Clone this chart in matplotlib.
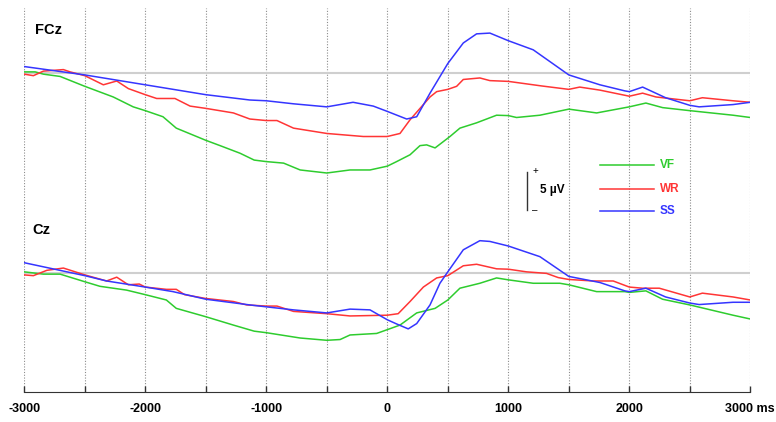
import matplotlib
matplotlib.use('Agg')
import matplotlib.pyplot as plt

# ERP traces (time in ms, amplitude in uV, positive up)
# FCz channel
FCZ_VF_T = [-3000, -2910, -2842, -2704, -2500, -2265, -2100, -2000, -1854, -1744, -1500, -1382,
            -1217, -1100, -1000, -857, -720, -500, -308, -143, 0, 77, 188, 270, 325, 395, 518,
            600, 738, 903, 1000, 1068, 1261, 1500, 1730, 2000, 2137, 2275, 2500, 2857, 3000]
FCZ_VF_V = [0.1, 0.1, -0.2, -0.5, -1.8, -3.2, -4.5, -5.0, -5.8, -7.3, -8.9, -9.6,
            -10.6, -11.5, -11.7, -11.9, -12.8, -13.2, -12.8, -12.8, -12.3, -11.7, -10.8, -9.6, -9.5, -9.9, -8.4,
            -7.3, -6.6, -5.6, -5.65, -5.9, -5.6, -4.8, -5.3, -4.5, -4.0, -4.6, -5.0, -5.6, -5.9]

FCZ_WR_T = [-3000, -2925, -2842, -2677, -2622, -2500, -2347, -2236, -2140, -2000, -1906, -1755,
            -1630, -1500, -1272, -1136, -1000, -912, -775, -500, -198, 0, 105, 188, 353, 408, 500,
            573, 628, 765, 848, 1000, 1275, 1500, 1590, 1757, 2000, 2110, 2220, 2500, 2604, 2857, 3000]
FCZ_WR_V = [-0.2, -0.4, 0.2, 0.4, 0.1, -0.4, -1.6, -1.1, -2.1, -2.9, -3.4, -3.4,
            -4.4, -4.7, -5.3, -6.1, -6.3, -6.3, -7.3, -8.0, -8.4, -8.4, -8.0, -6.2, -3.2, -2.5, -2.2,
            -1.8, -0.9, -0.7, -1.05, -1.15, -1.75, -2.2, -1.9, -2.3, -3.1, -2.7, -3.2, -3.7, -3.3, -3.7, -3.9]

FCZ_SS_T = [-3000, -2500, -2000, -1500, -1136, -1000, -775, -500, -283, -116, 0, 160, 243, 353,
            500, 628, 738, 848, 1000, 1206, 1500, 1757, 1963, 2000, 2110, 2300, 2500, 2577, 2857, 3000]
FCZ_SS_V = [0.8, -0.3, -1.6, -2.9, -3.6, -3.7, -4.1, -4.5, -3.9, -4.4, -5.1, -6.1, -5.8, -2.7,
            1.2, 3.9, 5.1, 5.2, 4.2, 3.0, -0.3, -1.6, -2.4, -2.5, -1.9, -3.3, -4.3, -4.5, -4.2, -3.9]

# Cz channel
CZ_VF_T = [-3000, -2842, -2704, -2500, -2375, -2155, -2000, -1826, -1744, -1500, -1272, -1100,
           -1000, -720, -500, -390, -308, -88, 0, 105, 243, 395, 500, 600, 765, 903, 1000, 1206,
           1426, 1500, 1730, 1963, 2000, 2137, 2275, 2500, 2857, 3000]
CZ_VF_V = [0.1, -0.2, -0.2, -1.2, -1.8, -2.3, -2.9, -3.6, -4.7, -5.8, -6.9, -7.7,
           -7.9, -8.6, -8.9, -8.8, -8.2, -8.0, -7.5, -6.9, -5.3, -4.7, -3.6, -2.05, -1.4, -0.7, -0.95, -1.4,
           -1.4, -1.6, -2.5, -2.5, -2.6, -2.4, -3.5, -4.25, -5.6, -6.1]

CZ_WR_T = [-3000, -2925, -2814, -2677, -2500, -2320, -2236, -2140, -2050, -2000, -1826, -1744,
           -1675, -1500, -1272, -1162, -1000, -912, -775, -500, -308, 0, 90, 188, 298, 408, 500,
           628, 738, 903, 1000, 1151, 1316, 1412, 1500, 1702, 1867, 2000, 2110, 2248, 2500, 2604, 2857, 3000]
CZ_WR_V = [-0.3, -0.4, 0.3, 0.6, -0.3, -1.1, -0.6, -1.6, -1.5, -1.9, -2.2, -2.2,
           -2.9, -3.4, -3.8, -4.25, -4.4, -4.4, -5.1, -5.4, -5.7, -5.6, -5.4, -3.8, -1.9, -0.7, -0.4,
           0.9, 1.1, 0.5, 0.45, 0.1, -0.1, -0.65, -0.9, -1.1, -1.1, -1.9, -2.05, -2.05, -3.2, -2.7, -3.2, -3.6]

CZ_SS_T = [-3000, -2500, -2320, -2000, -1771, -1500, -1136, -1000, -775, -500, -308, -143, 0, 77,
           173, 243, 353, 435, 500, 628, 765, 848, 1000, 1261, 1500, 1757, 1963, 2000, 2137, 2300,
           2500, 2577, 2857, 3000]
CZ_SS_V = [1.3, -0.4, -1.1, -1.9, -2.5, -3.5, -4.25, -4.5, -4.9, -5.3, -4.8, -4.9, -6.2, -6.75,
           -7.4, -6.7, -4.25, -1.4, 0.1, 3.0, 4.2, 4.1, 3.5, 2.1, -0.5, -1.3, -2.4, -2.5, -2.05, -3.2,
           -4.0, -4.2, -3.9, -3.9]

CONDITIONS = ['VF', 'WR', 'SS']
COLORS = {'VF': '#2ecc2e', 'WR': '#ff3535', 'SS': '#3535ff'}
X_TICKS = [-3000, -2500, -2000, -1500, -1000, -500, 0, 500, 1000, 1500, 2000, 2500, 3000]
X_LABELS = ['-3000', '', '-2000', '', '-1000', '', '0', '', '1000', '', '2000', '', '3000 ms']

CZ_OFFSET = -26.3  # vertical gap between the two channels, in uV
FONT = 'Liberation Sans'


def plot_data():
    fig = plt.figure(figsize=(7.76, 4.22), dpi=100)
    ax = fig.add_axes([24.3 / 776, 30 / 422, 726 / 776, 384 / 422])

    # grid of dotted verticals every 500 ms
    for t in X_TICKS:
        ax.axvline(t, color='#8c8c8c', ls=(0, (1, 1.5)), lw=0.8, zorder=1)

    # baselines
    ax.hlines([0, CZ_OFFSET], -3000, 3000, color='#cfcfcf', lw=1.5, zorder=1)

    fcz = {'VF': (FCZ_VF_T, FCZ_VF_V), 'WR': (FCZ_WR_T, FCZ_WR_V), 'SS': (FCZ_SS_T, FCZ_SS_V)}
    cz = {'VF': (CZ_VF_T, CZ_VF_V), 'WR': (CZ_WR_T, CZ_WR_V), 'SS': (CZ_SS_T, CZ_SS_V)}

    for cond in CONDITIONS:
        t, v = fcz[cond]
        ax.plot(t, v, color=COLORS[cond], lw=1.1, zorder=3)
        t, v = cz[cond]
        ax.plot(t, [x + CZ_OFFSET for x in v], color=COLORS[cond], lw=1.1, zorder=3)

    # channel names
    ax.text(-2910, 5.6, 'FCz', fontsize=10.5, fontweight='bold', family=FONT, va='center')
    ax.text(-2930, CZ_OFFSET + 5.6, 'Cz', fontsize=10.5, fontweight='bold', family=FONT, va='center')

    # legend
    leg_y = [-12.14, -15.26, -18.2]
    for cond, y in zip(CONDITIONS, leg_y):
        ax.plot([1758, 2204], [y, y], color=COLORS[cond], lw=1.1, zorder=3)
        ax.text(2254, y, cond, color=COLORS[cond], fontsize=8.5, fontweight='bold',
                family=FONT, va='center')

    # 5 uV scale bar
    ax.plot([1154, 1154], [-13.07, -18.07], color='#333333', lw=1.0)
    ax.text(1200, -13.0, '+', fontsize=7, family=FONT, va='center')
    ax.text(1200, -18.1, '\u2013', fontsize=7, family=FONT, va='center')
    ax.text(1260, -15.5, '5 \u00b5V', fontsize=8.5, fontweight='bold', family=FONT, va='center')

    ax.set_xlim(-3000, 3000)
    ax.set_ylim(-42.0, 8.5)
    ax.set_xticks(X_TICKS)
    ax.set_xticklabels(X_LABELS, fontsize=9, fontweight='bold', family=FONT)
    ax.tick_params(axis='x', direction='in', length=4, width=1, pad=8, color='#333333')
    ax.set_yticks([])
    for side in ['left', 'right', 'top']:
        ax.spines[side].set_visible(False)
    ax.spines['bottom'].set_color('#333333')
    ax.set_facecolor('none')

    fig.savefig('out.png', dpi=100)


plot_data()
